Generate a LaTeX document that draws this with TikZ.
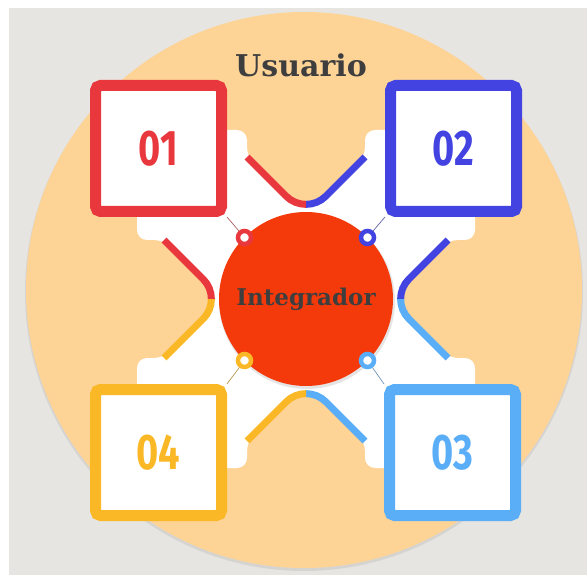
\documentclass[tikz,border=0pt]{standalone}
\usepackage{fontspec}
\setmainfont{DejaVu Serif}
\newfontfamily\numfont{Fira Sans}[FakeStretch=0.76]
\definecolor{bggray}{HTML}{E7E5E1}
\definecolor{peach}{HTML}{FDD396}
\definecolor{cred}{HTML}{E8383D}
\definecolor{cblue}{HTML}{4343E2}
\definecolor{clight}{HTML}{5AADF7}
\definecolor{cyellow}{HTML}{FBB826}
\definecolor{core}{HTML}{F43A0A}
\definecolor{ink}{HTML}{3E3E3E}
\begin{document}
\begin{tikzpicture}[x=1pt,y=-1pt,
  numbox/.style={draw=#1, text=#1, fill=white, line width=11pt, rounded corners=5pt,
    minimum size=126pt, inner sep=0pt, font=\numfont\bfseries\fontsize{50}{60}\selectfont},
  ring/.style={circle, draw=#1, fill=white, line width=4.5pt, minimum size=13pt, inner sep=0pt},
  notch/.style={line width=7pt},
  link/.style={draw=#1!45!gray, line width=0.7pt},
  hub/.style={circle, fill=core, minimum size=174pt, inner sep=0pt, text=ink,
    font=\bfseries\fontsize{23}{26}\selectfont}]
\useasboundingbox (0,0) rectangle (587,575);
\fill[white] (0,0) rectangle (587,575);
\fill[bggray] (9,8) rectangle (587,575);
% outer disc with a faint shadow
\fill[black, opacity=0.07] (304,292) circle (279pt);
\fill[peach] (304,290) circle (278pt);
\node[font=\bfseries\fontsize{30}{34}\selectfont, text=ink, anchor=base] (user) at (301,77) {Usuario};
\begin{scope}[shift={(306,299)}]
  % white cross behind the boxes, with four rounded notches
  \fill[white, rounded corners=10pt]
    (-169,-169) -- (-59,-169) -- (-59,-142)
    -- (-19.8,-102.8) .. controls (-8.9,-91.9) and (8.9,-91.9) .. (19.8,-102.8)
    -- (59,-142) -- (59,-169) -- (169,-169) -- (169,-59) -- (142,-59)
    -- (102.8,-19.8) .. controls (91.9,-8.9) and (91.9,8.9) .. (102.8,19.8)
    -- (142,59) -- (169,59) -- (169,169) -- (59,169) -- (59,142)
    -- (19.8,102.8) .. controls (8.9,91.9) and (-8.9,91.9) .. (-19.8,102.8)
    -- (-59,142) -- (-59,169) -- (-169,169) -- (-169,59) -- (-142,59)
    -- (-102.8,19.8) .. controls (-91.9,8.9) and (-91.9,-8.9) .. (-102.8,-19.8)
    -- (-142,-59) -- (-169,-59) -- cycle;
  % two-coloured notch outlines
  \def\topnotch{(-59,-142) -- (-19.8,-102.8) .. controls (-8.9,-91.9) and (8.9,-91.9) .. (19.8,-102.8) -- (59,-142)}
  \def\rightnotch{(142,-59) -- (102.8,-19.8) .. controls (91.9,-8.9) and (91.9,8.9) .. (102.8,19.8) -- (142,59)}
  \def\bottomnotch{(59,142) -- (19.8,102.8) .. controls (8.9,91.9) and (-8.9,91.9) .. (-19.8,102.8) -- (-59,142)}
  \def\leftnotch{(-142,59) -- (-102.8,19.8) .. controls (-91.9,8.9) and (-91.9,-8.9) .. (-102.8,-19.8) -- (-142,-59)}
  \begin{scope}\clip (-200,-200) rectangle (0,0);
    \draw[notch, cred] \topnotch;
    \draw[notch, cred] \leftnotch;
  \end{scope}
  \begin{scope}\clip (0,-200) rectangle (200,0);
    \draw[notch, cblue] \topnotch;
    \draw[notch, cblue] \rightnotch;
  \end{scope}
  \begin{scope}\clip (0,0) rectangle (200,200);
    \draw[notch, clight] \rightnotch;
    \draw[notch, clight] \bottomnotch;
  \end{scope}
  \begin{scope}\clip (-200,0) rectangle (0,200);
    \draw[notch, cyellow] \bottomnotch;
    \draw[notch, cyellow] \leftnotch;
  \end{scope}
  % central disc
  \fill[black, opacity=0.10] (1,2) circle (88pt);
  \node[hub] (hub) at (0,0) {Integrador};
  % numbered boxes
  \node[numbox=cred] (b1) at (-147.5,-150.5) {01};
  \node[numbox=cblue] (b2) at (147.5,-150.5) {02};
  \node[numbox=clight] (b3) at (146.5,153.5) {03};
  \node[numbox=cyellow] (b4) at (-147.5,153.5) {04};
  % rings on the disc rim
  \node[ring=cred] (r1) at (-61.5,-61.5) {};
  \node[ring=cblue] (r2) at (61.5,-61.5) {};
  \node[ring=clight] (r3) at (61.5,61.5) {};
  \node[ring=cyellow] (r4) at (-61.5,61.5) {};
  \draw[link=cred] (b1.south east) -- (r1);
  \draw[link=cblue] (b2.south west) -- (r2);
  \draw[link=clight] (b3.north west) -- (r3);
  \draw[link=cyellow] (b4.north east) -- (r4);
\end{scope}
\end{tikzpicture}
\end{document}
